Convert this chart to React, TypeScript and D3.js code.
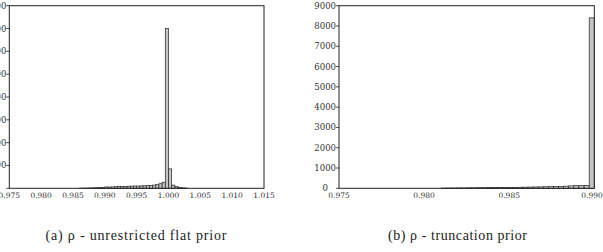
import React from "react";
import * as d3 from "d3";

// Panel (a): rho, unrestricted flat prior — bins of width 0.0005 (start values)
const binWidthA = 0.0005;
const binStartsA = [
  0.986, 0.9865, 0.987, 0.9875, 0.988, 0.9885, 0.989, 0.9895, 0.99, 0.9905,
  0.991, 0.9915, 0.992, 0.9925, 0.993, 0.9935, 0.994, 0.9945, 0.995, 0.9955,
  0.996, 0.9965, 0.997, 0.9975, 0.998, 0.9985, 0.999, 0.9995, 1.0, 1.0005,
  1.001, 1.0015, 1.002, 1.0025,
];
const countsA = [
  5, 8, 10, 15, 20, 25, 30, 40, 60, 55,
  60, 70, 75, 80, 85, 90, 95, 100, 100, 105,
  110, 115, 120, 140, 175, 200, 265, 7000, 850, 140,
  75, 40, 20, 10,
];
const xTicksA = [0.975, 0.98, 0.985, 0.99, 0.995, 1.0, 1.005, 1.01, 1.015];
const yTicksA = [0, 1000, 2000, 3000, 4000, 5000, 6000, 7000, 8000];

// Panel (b): rho, truncation prior — bins of width 0.0003 (start values)
const binWidthB = 0.0003;
const binStartsB = [
  0.981, 0.9813, 0.9816, 0.9819, 0.9822, 0.9825, 0.9828, 0.9831, 0.9834, 0.9837,
  0.984, 0.9843, 0.9846, 0.9849, 0.9852, 0.9855, 0.9858, 0.9861, 0.9864, 0.9867,
  0.987, 0.9873, 0.9876, 0.9879, 0.9882, 0.9885, 0.9888, 0.9891, 0.9894, 0.9897,
];
const countsB = [
  10, 15, 15, 20, 20, 25, 25, 30, 30, 35,
  35, 40, 40, 45, 45, 50, 55, 60, 65, 70,
  75, 80, 85, 95, 105, 120, 130, 130, 140, 8400,
];
const xTicksB = [0.975, 0.98, 0.985, 0.99];
const yTicksB = [0, 1000, 2000, 3000, 4000, 5000, 6000, 7000, 8000, 9000];

const captionA = "(a) ρ - unrestricted flat prior";
const captionB = "(b) ρ - truncation prior";

const serifStack = "Liberation Serif, DejaVu Serif, serif";
const tickStack = "DejaVu Serif, Liberation Serif, serif";

type PanelProps = {
  left: number;
  right: number;
  top: number;
  bottom: number;
  xDomain: [number, number];
  yMax: number;
  starts: number[];
  counts: number[];
  binW: number;
  xTicks: number[];
  yTicks: number[];
};

function Panel(p: PanelProps) {
  const x = d3.scaleLinear().domain(p.xDomain).range([p.left, p.right]);
  const y = d3.scaleLinear().domain([0, p.yMax]).range([p.bottom, p.top]);
  const fmt = d3.format(".3f");
  return (
    <g>
      {p.starts.map((s, i) => (
        <rect
          key={i}
          x={x(s)}
          y={y(p.counts[i])}
          width={x(s + p.binW) - x(s)}
          height={p.bottom - y(p.counts[i])}
          fill="#c4c4c4"
          stroke="#222"
          strokeWidth={0.7}
        />
      ))}
      <rect
        x={p.left}
        y={p.top}
        width={p.right - p.left}
        height={p.bottom - p.top}
        fill="none"
        stroke="#222"
        strokeWidth={1}
      />
      {p.yTicks.map((t) => (
        <g key={t}>
          <line x1={p.left - 3} x2={p.left} y1={y(t)} y2={y(t)} stroke="#222" strokeWidth={0.8} />
          <text
            x={t === 0 ? p.left - 11 : p.left - 3}
            y={y(t)}
            dy="0.35em"
            textAnchor="end"
            fontFamily={tickStack}
            fontSize={8.5}
            fill="#333"
          >
            {t}
          </text>
        </g>
      ))}
      {p.xTicks.map((t) => (
        <text
          key={t}
          x={Math.min(x(t), 603 - 11)}
          y={p.bottom + 10}
          textAnchor="middle"
          fontFamily={tickStack}
          fontSize={7.5}
          fill="#333"
        >
          {fmt(t)}
        </text>
      ))}
    </g>
  );
}

export default function App() {
  return (
    <svg
      width={603}
      height={252}
      style={{ position: "absolute", left: 0, top: 0, background: "#fff" }}
    >
      <Panel
        left={9.3}
        right={264}
        top={5.7}
        bottom={188.3}
        xDomain={[0.975, 1.015]}
        yMax={8000}
        starts={binStartsA}
        counts={countsA}
        binW={binWidthA}
        xTicks={xTicksA}
        yTicks={yTicksA}
      />
      <Panel
        left={339}
        right={594.3}
        top={5.7}
        bottom={188.3}
        xDomain={[0.975, 0.99]}
        yMax={9000}
        starts={binStartsB}
        counts={countsB}
        binW={binWidthB}
        xTicks={xTicksB}
        yTicks={yTicksB}
      />
      <text
        x={136}
        y={240}
        textAnchor="middle"
        fontFamily={serifStack}
        fontSize={14}
        textLength={181}
        lengthAdjust="spacing"
        fill="#222"
      >
        {captionA}
      </text>
      <text
        x={457.5}
        y={240}
        textAnchor="middle"
        fontFamily={serifStack}
        fontSize={14}
        textLength={139}
        lengthAdjust="spacing"
        fill="#222"
      >
        {captionB}
      </text>
    </svg>
  );
}
